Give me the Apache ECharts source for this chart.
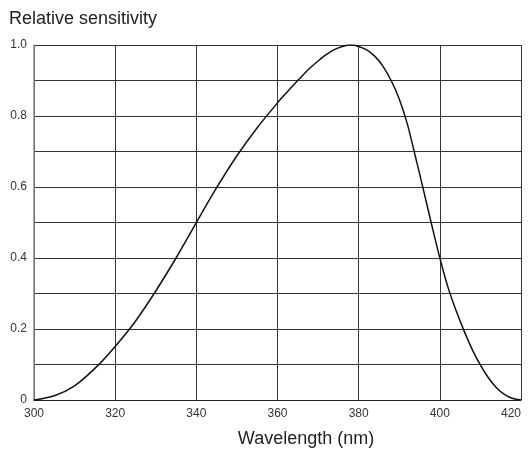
<!DOCTYPE html>
<html>
<head>
<meta charset="utf-8">
<script src="https://cdn.jsdelivr.net/npm/echarts@6/dist/echarts.min.js"></script>
<style>html,body{margin:0;padding:0;background:#fff;}#c{width:528px;height:450px;}</style>
</head>
<body>
<div id="c"></div>
<script>
var wavelengths = [300, 305, 310, 315, 320, 325, 330, 335, 340, 345, 350, 355, 360, 362, 364, 366, 368, 370, 372, 374, 376, 378, 380, 382, 384, 386, 388, 390, 392, 394, 396, 398, 400, 402, 404, 406, 408, 410, 412, 414, 416, 418, 420];
var sensitivity = [0, 0.012, 0.04, 0.089, 0.151, 0.222, 0.307, 0.4, 0.5, 0.598, 0.688, 0.767, 0.837, 0.863, 0.888, 0.912, 0.935, 0.955, 0.973, 0.987, 0.996, 1.0, 0.996, 0.986, 0.968, 0.94, 0.9, 0.848, 0.777, 0.685, 0.59, 0.493, 0.4, 0.318, 0.252, 0.194, 0.142, 0.098, 0.062, 0.034, 0.015, 0.004, 0];
var xTicks = [300, 320, 340, 360, 380, 400, 420];
var yLabels = ['0', '0.2', '0.4', '0.6', '0.8', '1.0'];

var pts = wavelengths.map(function (w, i) { return [w, sensitivity[i]]; });
var chart = echarts.init(document.getElementById('c'));
var font = '"Liberation Sans", Arial, sans-serif';
chart.setOption({
  animation: false,
  title: [
    { text: 'Relative sensitivity', left: 4, top: 5, textStyle: { fontFamily: font, fontSize: 18, fontWeight: 'normal', color: '#222' } },
    { text: 'Wavelength (nm)', left: 301, top: 425, textAlign: 'center', textStyle: { fontFamily: font, fontSize: 18, fontWeight: 'normal', color: '#222' } }
  ],
  grid: { left: 34, right: 7, top: 45, bottom: 50, containLabel: false },
  xAxis: {
    type: 'value', min: xTicks[0], max: xTicks[xTicks.length - 1], interval: 20,
    axisLine: { show: true, lineStyle: { color: '#222', width: 1 } },
    axisTick: { show: false },
    axisLabel: { fontFamily: font, fontSize: 12, color: '#333', margin: 8, alignMaxLabel: 'right',
      formatter: function (v) { return xTicks.indexOf(v) >= 0 ? String(v) : ''; } },
    splitLine: { show: true, lineStyle: { color: '#333', width: 1 } }
  },
  yAxis: {
    type: 'value', min: 0, max: 1, interval: 0.1,
    axisLine: { show: true, lineStyle: { color: '#888', width: 1.5 } },
    axisTick: { show: false },
    axisLabel: { fontFamily: font, fontSize: 12, color: '#333', margin: 7,
      formatter: function (v) { var k = Math.round(v * 10); return k % 2 ? '' : yLabels[k / 2]; } },
    splitLine: { show: true, lineStyle: { color: '#333', width: 1 } }
  },
  series: [{
    type: 'line', data: pts, smooth: 0.3, showSymbol: false,
    lineStyle: { color: '#111', width: 1.5 }
  }]
});
</script>
</body>
</html>
